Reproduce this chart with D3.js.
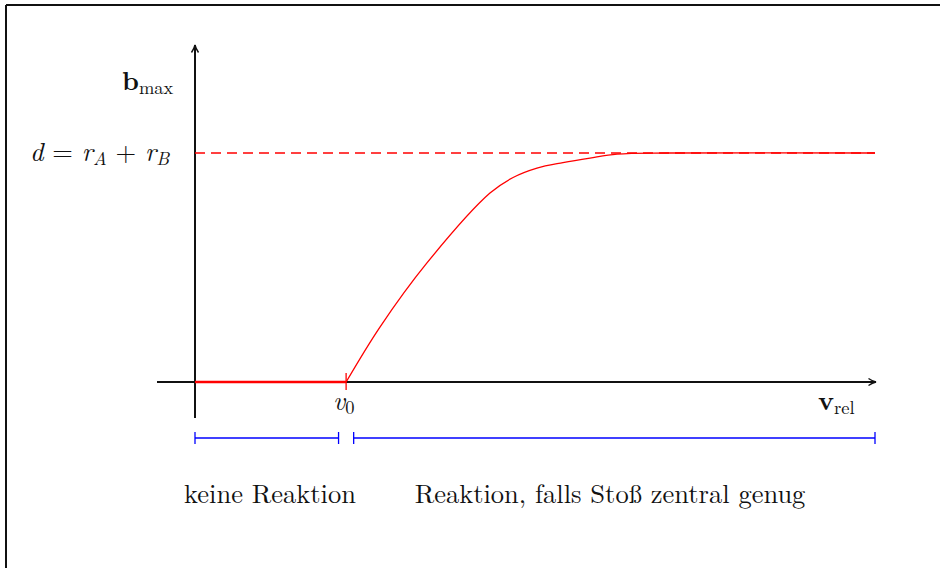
<!DOCTYPE html>
<html><head><meta charset="utf-8">
<script src="https://cdn.jsdelivr.net/npm/d3@7"></script>
<style>
html,body{margin:0;padding:0;background:#fff;}
svg text{font-family:"Latin Modern Roman","Liberation Serif","DejaVu Serif",serif;fill:#111;}
</style></head>
<body>
<svg id="c" width="940" height="568"></svg>
<script>
// Data (x in units of v0, y in units of d)
const curveX = [0, 1.0, 1.224, 1.535, 1.952, 2.105, 2.263, 2.435, 2.614, 2.793, 3.14, 4.5];
const curveY = [0, 0, 0.24, 0.52, 0.825, 0.893, 0.934, 0.958, 0.978, 0.995, 1.0, 1.0];
const asymptote = 1.0;
const v0 = 1.0;
const xMax = 4.5;
const ranges = [[0, 0.95], [1.05, 4.5]];
const rangeLabels = ["keine Reaktion", "Reaktion, falls Stoß zentral genug"];

const svg = d3.select("#c");
const x = d3.scaleLinear().domain([0, xMax]).range([195, 875]);
const y = d3.scaleLinear().domain([0, 1]).range([382, 153]);

// frame
svg.append("line").attr("x1",6).attr("x2",940).attr("y1",5).attr("y2",5).attr("stroke","#111").attr("stroke-width",2);
svg.append("line").attr("x1",6).attr("x2",6).attr("y1",5).attr("y2",568).attr("stroke","#111").attr("stroke-width",2);

const defs = svg.append("defs");
defs.append("marker").attr("id","arr").attr("viewBox","0 0 10 10").attr("refX",9).attr("refY",5)
  .attr("markerWidth",10).attr("markerHeight",10).attr("markerUnits","userSpaceOnUse").attr("orient","auto")
  .append("path").attr("d","M1.5,1.5 Q5.5,4.2 9,5 Q5.5,5.8 1.5,8.5").attr("fill","none").attr("stroke","#111").attr("stroke-width",1.4);

// axes
svg.append("line").attr("x1", x(0)-38).attr("x2", x(xMax)+1).attr("y1", y(0)).attr("y2", y(0))
  .attr("stroke","#111").attr("stroke-width",2).attr("marker-end","url(#arr)");
svg.append("line").attr("x1", x(0)).attr("x2", x(0)).attr("y1", y(0)+36).attr("y2", 45)
  .attr("stroke","#111").attr("stroke-width",2).attr("marker-end","url(#arr)");

// dashed asymptote
svg.append("line").attr("x1", x(0)).attr("x2", x(xMax)).attr("y1", y(asymptote)).attr("y2", y(asymptote))
  .attr("stroke","#ff0000").attr("stroke-width",1.4).attr("stroke-dasharray","10,6");

// red flat part
svg.append("line").attr("x1", x(0)).attr("x2", x(v0)).attr("y1", y(0)).attr("y2", y(0))
  .attr("stroke","#ff0000").attr("stroke-width",2.4);
// v0 tick
svg.append("line").attr("x1", x(v0)).attr("x2", x(v0)).attr("y1", y(0)-9).attr("y2", y(0)+8)
  .attr("stroke","#ff0000").attr("stroke-width",1.3);

// curve
const pts = curveX.map((v,i)=>[v, curveY[i]]).filter(p=>p[0]>=v0);
svg.append("path").datum(pts)
  .attr("d", d3.line().x(d=>x(d[0])).y(d=>y(d[1])).curve(d3.curveCatmullRom.alpha(0.5)))
  .attr("fill","none").attr("stroke","#ff0000").attr("stroke-width",1.3);

const FS = 26.5, SS = 18.5;
// labels
const bl = svg.append("text").attr("x",122).attr("y",90).attr("font-size",FS);
bl.append("tspan").text("b").attr("font-weight","bold");
bl.append("tspan").text("max").attr("font-size",SS).attr("dy",4);

const dl = svg.append("text").attr("x",30).attr("y",161).attr("font-size",FS);
dl.append("tspan").text("d").attr("font-style","italic");
dl.append("tspan").text(" = ");
dl.append("tspan").text("r").attr("font-style","italic");
dl.append("tspan").text("A").attr("font-style","italic").attr("font-size",SS).attr("dy",4);
dl.append("tspan").text(" + ").attr("dy",-4);
dl.append("tspan").text("r").attr("font-style","italic");
dl.append("tspan").text("B").attr("font-style","italic").attr("font-size",SS).attr("dy",4);

const vl = svg.append("text").attr("x",x(v0)-13).attr("y",410).attr("font-size",FS);
vl.append("tspan").text("v").attr("font-style","italic");
vl.append("tspan").text("0").attr("font-size",SS).attr("dy",4);

const vr = svg.append("text").attr("x",818).attr("y",410).attr("font-size",FS);
vr.append("tspan").text("v").attr("font-weight","bold");
vr.append("tspan").text("rel").attr("font-size",SS).attr("dy",4);

// range brackets
const by = 438;
ranges.forEach((r,i)=>{
  const g = svg.append("g").attr("stroke","#0000ff").attr("stroke-width",1.3);
  g.append("line").attr("x1",x(r[0])).attr("x2",x(r[1])).attr("y1",by).attr("y2",by);
  g.append("line").attr("x1",x(r[0])).attr("x2",x(r[0])).attr("y1",by-6).attr("y2",by+6);
  g.append("line").attr("x1",x(r[1])).attr("x2",x(r[1])).attr("y1",by-6).attr("y2",by+6);
});
const labX = [270, 610];
rangeLabels.forEach((t,i)=>{
  svg.append("text").attr("x",labX[i]).attr("y",503).attr("text-anchor","middle").attr("font-size",FS).text(t);
});
</script>
</body></html>
